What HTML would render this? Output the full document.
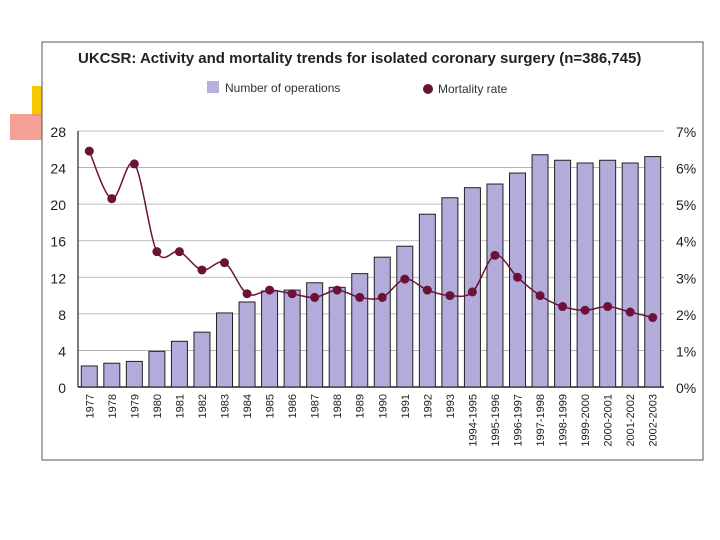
<!DOCTYPE html>
<html><head><meta charset="utf-8"><style>
body{margin:0;background:#fff;}
svg{display:block;font-family:"Liberation Sans",sans-serif;}
</style></head><body>
<svg width="720" height="540" id="c">
<rect x="32" y="86" width="12" height="30" fill="#f5c800"/>
<rect x="10" y="114" width="34" height="26" fill="#f08a7a" opacity="0.8"/>
<rect x="42" y="42" width="661" height="418" fill="#fff" stroke="#555" stroke-width="1"/>
<text x="78" y="63" font-size="15" font-weight="bold" fill="#222">UKCSR: Activity and mortality trends for isolated coronary surgery (n=386,745)</text>
<rect x="207" y="81" width="12" height="12" fill="#b8b0dc"/>
<text x="225" y="92" font-size="12" fill="#333">Number of operations</text>
<circle cx="428" cy="89" r="5" fill="#6b1238"/>
<text x="438" y="93" font-size="12" fill="#333">Mortality rate</text>
<g id="g"></g>
</svg>
<script>
const categories=["1977","1978","1979","1980","1981","1982","1983","1984","1985","1986","1987","1988","1989","1990","1991","1992","1993","1994-1995","1995-1996","1996-1997","1997-1998","1998-1999","1999-2000","2000-2001","2001-2002","2002-2003"];
const operations=[2.3,2.6,2.8,3.9,5.0,6.0,8.1,9.3,10.5,10.6,11.4,10.9,12.4,14.2,15.4,18.9,20.7,21.8,22.2,23.4,25.4,24.8,24.5,24.8,24.5,25.2];
const mortality=[6.45,5.15,6.1,3.7,3.7,3.2,3.4,2.55,2.65,2.55,2.45,2.65,2.45,2.45,2.95,2.65,2.5,2.6,3.6,3.0,2.5,2.2,2.1,2.2,2.05,1.9];
const leftTicks=[0,4,8,12,16,20,24,28];
const rightTicks=["0%","1%","2%","3%","4%","5%","6%","7%"];
const NS="http://www.w3.org/2000/svg",g=document.getElementById('g');
const x0=78,x1=664,yTop=131,yBot=387;
const step=(x1-x0)/categories.length;
const xc=i=>x0+step*(i+0.5);
const yL=v=>yBot-(v/28)*(yBot-yTop);
const yR=v=>yBot-(v/7)*(yBot-yTop);
function mk(t,a){const e=document.createElementNS(NS,t);for(const k in a)e.setAttribute(k,a[k]);g.appendChild(e);return e;}
leftTicks.forEach((t,i)=>{
 const y=yL(t);
 const l=mk('line',{x1:x0,x2:x1,y1:y,y2:y,stroke:i==0?'#222':'#aaa','stroke-width':i==0?1.5:0.8});
 
 
 const tx=mk('text',{x:66,y:y+6,'text-anchor':'end','font-size':14,fill:'#222'});tx.textContent=t;
 
 
 const tr=mk('text',{x:676,y:y+6,'font-size':14,fill:'#222'});tr.textContent=rightTicks[i];
 
 
});
const ax=mk('line',{x1:x0,x2:x0,y1:yTop,y2:yBot,stroke:'#222','stroke-width':1.2});


const bw=16;
operations.forEach((v,i)=>{
 const r=mk('rect',{x:xc(i)-bw/2,y:yL(v),width:bw,height:yBot-yL(v),fill:'#b3abda',stroke:'#222','stroke-width':1});
 
 
});
categories.forEach((c,i)=>{
 const t=mk('text',{transform:`translate(${xc(i)+4},${yBot+7}) rotate(-90)`,'text-anchor':'end','font-size':11,fill:'#222'});t.textContent=c;
 
 
});
const pts=mortality.map((v,i)=>[xc(i),yR(v)]);
let d=`M${pts[0][0]},${pts[0][1]}`;
for(let i=0;i<pts.length-1;i++){const p0=pts[i-1]||pts[i],p1=pts[i],p2=pts[i+1],p3=pts[i+2]||p2;
 d+=` C${p1[0]+(p2[0]-p0[0])/6},${p1[1]+(p2[1]-p0[1])/6} ${p2[0]-(p3[0]-p1[0])/6},${p2[1]-(p3[1]-p1[1])/6} ${p2[0]},${p2[1]}`;}
const ln=mk('path',{d:d,fill:'none',stroke:'#6b1238','stroke-width':1.5});


pts.forEach((p,i)=>{const c=mk('circle',{cx:p[0],cy:p[1],r:4.5,fill:'#6b1238'});
 
 });
</script>
</body></html>
